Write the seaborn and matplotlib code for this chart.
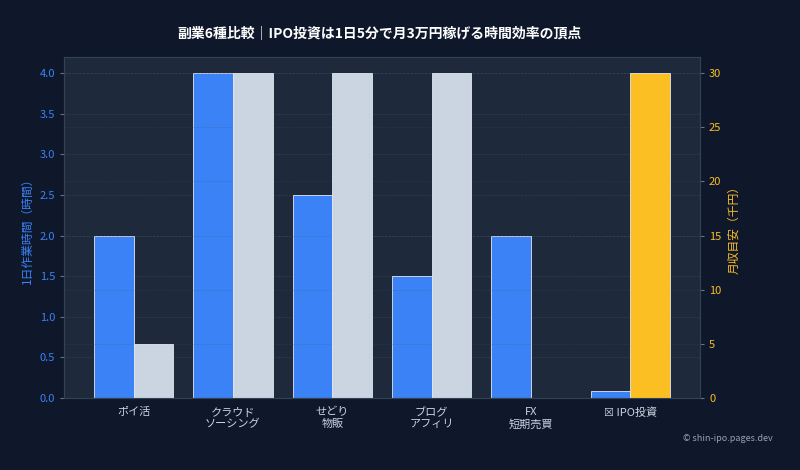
import seaborn as sns
import matplotlib.pyplot as plt
import numpy as np

# Data
categories = ['ポイ活', 'クラウド\nソーシング', 'せどり\n物販', 'ブログ\nアフィリ', 'FX\n短期売買', '☒ IPO投資']
hours = [2.0, 4.0, 2.5, 1.5, 2.0, 5 / 60]      # 1日作業時間 (時間)
income = [5, 30, 30, 30, 0, 30]                # 月収目安 (千円)
income_colors = ['#cbd5e1'] * 5 + ['#fbbf24']

BG = '#0f172a'
PANEL = '#1e293b'
BLUE = '#3b82f6'
GOLD = '#fbbf24'
TEXT = '#cbd5e1'

sns.set_style('dark')
plt.rcParams['font.family'] = ['Noto Sans CJK JP', 'DejaVu Sans']

pos = np.arange(len(categories))

fig = plt.figure(figsize=(8, 4.7), dpi=100)
fig.patch.set_facecolor(BG)
ax1 = fig.add_axes([0.08, 0.153, 0.795, 0.726])
ax1.set_facecolor(PANEL)
ax2 = ax1.twinx()

sns.barplot(x=pos - 0.2, y=hours, native_scale=True, width=0.4, color=BLUE,
            saturation=1, edgecolor='#e2e8f0', linewidth=0.6, ax=ax1)
sns.barplot(x=pos + 0.2, y=income, native_scale=True, width=0.4,
            hue=pos + 0.2, palette=income_colors, legend=False,
            saturation=1, edgecolor='#e2e8f0', linewidth=0.6, ax=ax2)

ax1.set_xlim(-0.7, 5.7)
ax1.set_ylim(0, 4.2)
ax2.set_ylim(0, 31.5)
ax1.set_yticks(np.arange(0, 4.01, 0.5))
ax2.set_yticks(range(0, 31, 5))
ax1.set_xticks(pos)
ax1.set_xticklabels(categories)

ax1.grid(axis='y', color='#475569', linestyle='--', linewidth=0.5, alpha=0.45)
ax2.grid(axis='y', color='#475569', linestyle='--', linewidth=0.5, alpha=0.3)
ax1.set_axisbelow(True)

ax1.set_xlabel('')
ax1.set_ylabel('1日作業時間（時間）', color=BLUE, fontsize=8.5)
ax2.set_ylabel('月収目安（千円）', color=GOLD, fontsize=8.5)
ax1.tick_params(axis='x', colors='#64748b', labelcolor=TEXT, labelsize=8, length=3)
ax1.tick_params(axis='y', colors='#64748b', labelcolor=BLUE, labelsize=8, length=3)
ax2.tick_params(axis='y', colors='#64748b', labelcolor=GOLD, labelsize=8, length=3)

for ax in (ax1, ax2):
    for s in ax.spines.values():
        s.set_color('#334155')
        s.set_linewidth(0.8)

fig.suptitle('副業6種比較｜IPO投資は1日5分で月3万円稼げる時間効率の頂点',
             x=0.474, y=0.945, color='white', fontsize=10, fontweight='bold')
fig.text(0.966, 0.068, '© shin-ipo.pages.dev', ha='right', va='center',
         color='#94a3b8', fontsize=6.5)

fig.savefig('out.png', dpi=100, facecolor=BG)
